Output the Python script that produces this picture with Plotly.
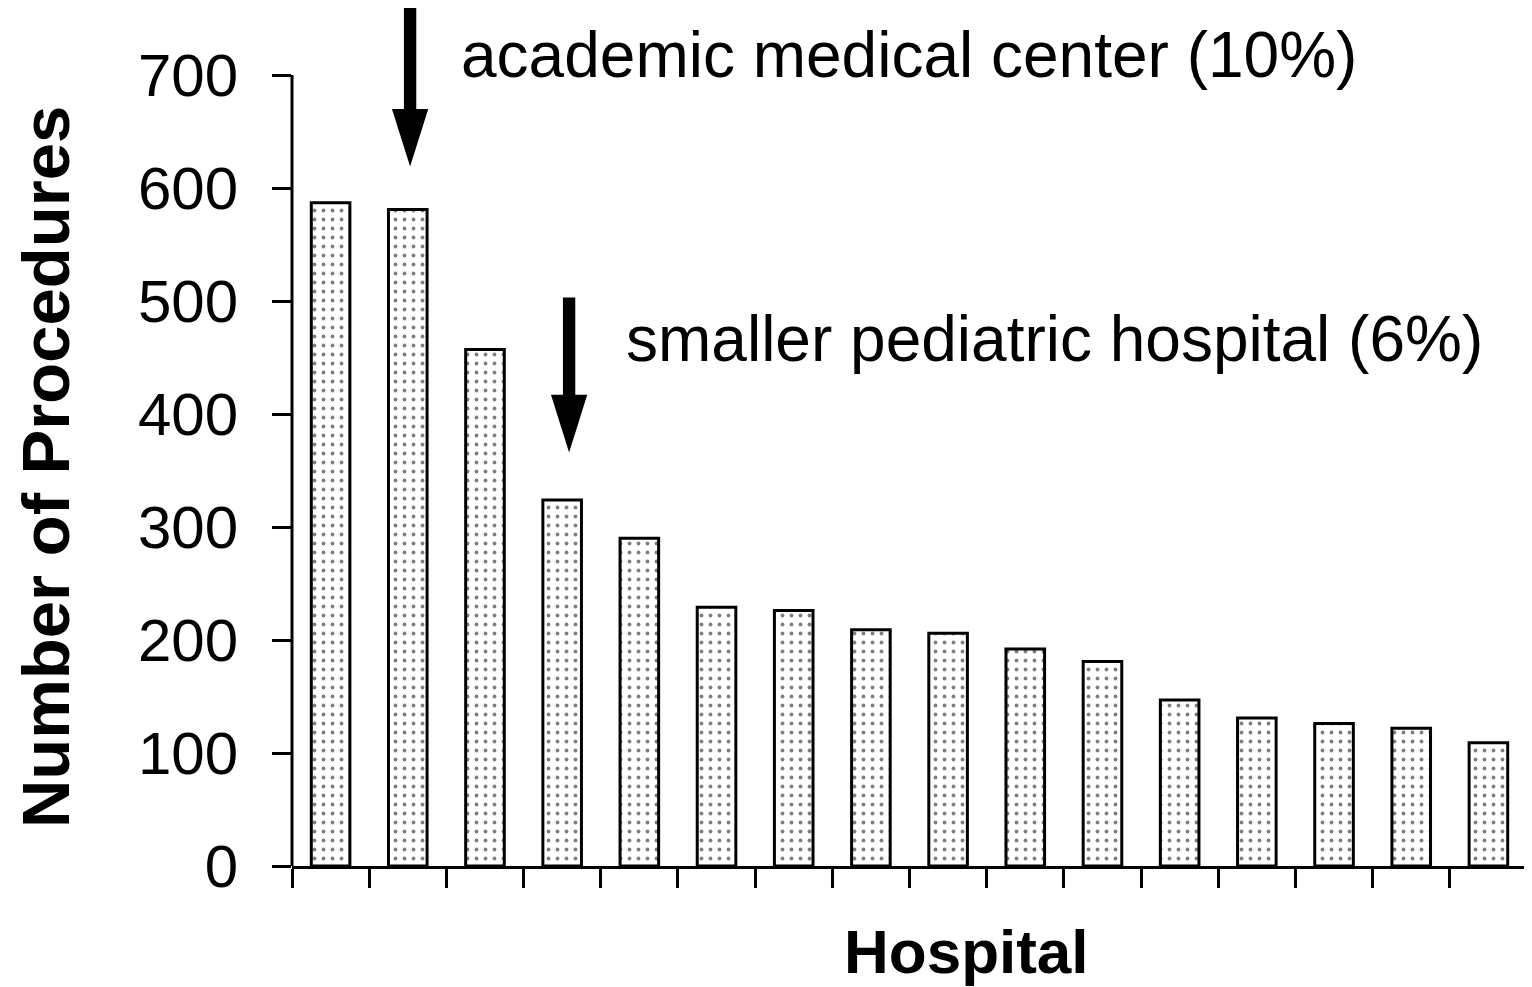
import plotly.graph_objects as go

# ---- data ----
hospitals = list(range(16))
procedures = [587, 581, 457, 324, 290, 229, 226, 209, 206, 192, 181, 147, 131, 126, 122, 109]
y_ticks = [0, 100, 200, 300, 400, 500, 600, 700]
annot_bar = [1, 3]
annot_text = ["academic medical center (10%)", "smaller pediatric hospital (6%)"]
arrow_top = [760, 503]
arrow_tip = [619, 366]
arrow_dx = [0.03, 0.09]
text_x = [1.66, 3.80]
text_y = [718, 466]

FONT = "Liberation Sans, Arial, sans-serif"

fig = go.Figure()
fig.add_trace(go.Bar(
    x=hospitals, y=procedures, width=0.5,
    marker=dict(color="white", line=dict(color="black", width=3),
                pattern=dict(shape=".", fgcolor="black", bgcolor="white", size=9, solidity=0.14)),
    showlegend=False,
))

shapes = []
annotations = []
# y-axis line from 0 to 700
shapes.append(dict(type="line", xref="paper", yref="y", x0=0, x1=0, y0=y_ticks[0], y1=y_ticks[-1],
                   line=dict(color="black", width=3)))

for b, txt, top, tip, dx, tx, ty in zip(annot_bar, annot_text, arrow_top, arrow_tip, arrow_dx, text_x, text_y):
    base = tip + 51
    cx = b + dx
    shapes.append(dict(type="rect", xref="x", yref="y", x0=cx - 0.08, x1=cx + 0.08,
                       y0=base - 2, y1=top, fillcolor="black", line=dict(width=0)))
    shapes.append(dict(type="path", xref="x", yref="y",
                       path=f"M {cx-0.235},{base} L {cx+0.235},{base} L {cx},{tip} Z",
                       fillcolor="black", line=dict(width=0)))
    annotations.append(dict(x=tx, y=ty, xref="x", yref="y",
                            text=txt, showarrow=False, xanchor="left", yanchor="middle",
                            font=dict(family=FONT, size=64, color="black")))

annotations.append(dict(x=0.546, y=-0.1, xref="paper", yref="paper", text="<b>Hospital</b>",
                        showarrow=False, xanchor="center", yanchor="middle",
                        font=dict(family=FONT, size=62, color="black")))
annotations.append(dict(x=-0.2, y=0.465, xref="paper", yref="paper", text="<b>Number of Procedures</b>",
                        showarrow=False, xanchor="center", yanchor="middle", textangle=-90,
                        font=dict(family=FONT, size=67, color="black")))

fig.update_layout(
    width=1532, height=987,
    margin=dict(l=284, r=13, t=0, b=129),
    paper_bgcolor="white", plot_bgcolor="white",
    shapes=shapes, annotations=annotations,
    xaxis=dict(range=[-0.5, 15.5], showgrid=False, zeroline=False, showline=True,
               linecolor="black", linewidth=3,
               tickmode="array", tickvals=[h - 0.5 for h in hospitals] + [hospitals[-1] + 0.5],
               showticklabels=False, ticks="outside", ticklen=19, tickwidth=3, tickcolor="black"),
    yaxis=dict(range=[0, 759.3], showgrid=False, zeroline=False, showline=False,
               tickmode="array", tickvals=y_ticks, ticks="outside", ticklen=19, tickwidth=3,
               tickcolor="black", ticklabelstandoff=22,
               tickfont=dict(family=FONT, size=60, color="black")),
)

fig.write_html("out.html")
